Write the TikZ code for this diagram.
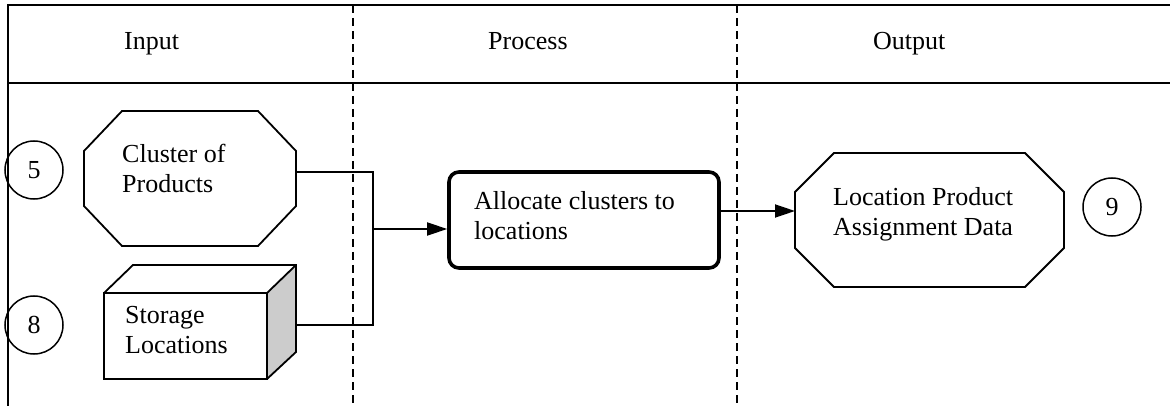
\documentclass[tikz,border=0pt]{standalone}
\usepackage{fontspec}
\setmainfont{Liberation Serif}
\usetikzlibrary{arrows.meta,calc}
\definecolor{sidegray}{RGB}{204,204,204}
\tikzset{
  frame/.style={line width=1.6pt},
  lane/.style={line width=1.4pt, dash pattern=on 8pt off 5pt},
  shp/.style={line width=1.8pt, line join=miter},
  ref/.style={draw=none, inner sep=0pt, outer sep=0pt},
  txt/.style={font=\fontsize{26}{30}\selectfont, align=left, inner sep=0pt, anchor=base west},
  num/.style={circle, draw, line width=1.5pt, minimum size=58pt, inner sep=0pt, font=\fontsize{26}{30}\selectfont},
  procbox/.style={draw, rounded corners=10pt, line width=3.6pt, minimum width=270pt, minimum height=96pt, inner sep=0pt},
  conn/.style={line width=1.8pt},
  arr/.style={line width=1.8pt, -{Triangle[length=20pt,width=13pt]}}
}
\newcommand\octashape[3]{%
  \draw[shp] ([xshift=#2]#1.north west) -- ([xshift=-#2]#1.north east) -- ([yshift=-#3]#1.north east)
    -- ([yshift=#3]#1.south east) -- ([xshift=-#2]#1.south east) -- ([xshift=#2]#1.south west)
    -- ([yshift=#3]#1.south west) -- ([yshift=-#3]#1.north west) -- cycle;}
\begin{document}
\begin{tikzpicture}[x=1pt,y=-1pt]
\useasboundingbox (0,0) rectangle (1170,406);
% frame
\coordinate (tl) at (8,5);
\coordinate (tr) at (1170,5);
\coordinate (bl) at (8,406);
\coordinate (hl) at (8,83);
\coordinate (hr) at (1170,83);
\draw[frame] (bl) -- (tl) -- (tr);
\draw[line width=1.2pt] (hl) -- (hr);
\coordinate (d1t) at (353,5); \coordinate (d1b) at (353,406);
\coordinate (d2t) at (737,5); \coordinate (d2b) at (737,406);
\draw[lane] (d1t) -- (d1b);
\draw[lane] (d2t) -- (d2b);
% headers
\node[txt] (hin) at (124,50) {Input};
\node[txt] (hpr) at (488,50) {Process};
\node[txt] (hout) at (873,50) {Output};
% cluster of products
\node[ref, minimum width=212pt, minimum height=135pt] (c1) at (190,178.5) {};
\octashape{c1}{38pt}{40pt}
\node[txt] (c1t) at (122,193) {Cluster of\\Products};
\node[num] (n5) at (34,170) {5};
% storage locations
\node[ref, minimum width=163pt, minimum height=86pt] (st) at (185.5,336) {};
\fill[sidegray] (st.north east) -- ([shift={(29pt,28pt)}]st.north east) -- ([shift={(29pt,27pt)}]st.south east) -- (st.south east) -- cycle;
\draw[shp] (st.north west) -- ([shift={(29pt,28pt)}]st.north west) -- ([shift={(29pt,28pt)}]st.north east) -- ([shift={(29pt,27pt)}]st.south east) -- (st.south east);
\draw[shp] (st.north east) -- ([shift={(29pt,28pt)}]st.north east);
\draw[shp] (st.north west) rectangle (st.south east);
\node[txt] (stt) at (125,353) {Storage\\Locations};
\node[num] (n8) at (34,325) {8};
\coordinate (stR) at (296,325);
% process
\node[procbox] (proc) at (584,220) {};
\node[txt] (proct) at (474,240) {Allocate clusters to\\locations};
% output
\node[ref, minimum width=269pt, minimum height=134pt] (c2) at (929.5,220) {};
\octashape{c2}{39pt}{39pt}
\node[txt] (c2t) at (833,236) {Location Product\\Assignment Data};
\node[num] (n9) at (1112,207) {9};
% connectors
\coordinate (jx) at (373,325);
\coordinate (j) at (373,229);
\draw[conn] ([yshift=6.5pt]c1.east) -| (jx) -- (stR);
\draw[arr] (j) -- ([yshift=-9pt]proc.west);
\draw[arr] ([yshift=9pt]proc.east) -- ([yshift=9pt]proc.east -| c2.west);
\end{tikzpicture}
\end{document}
